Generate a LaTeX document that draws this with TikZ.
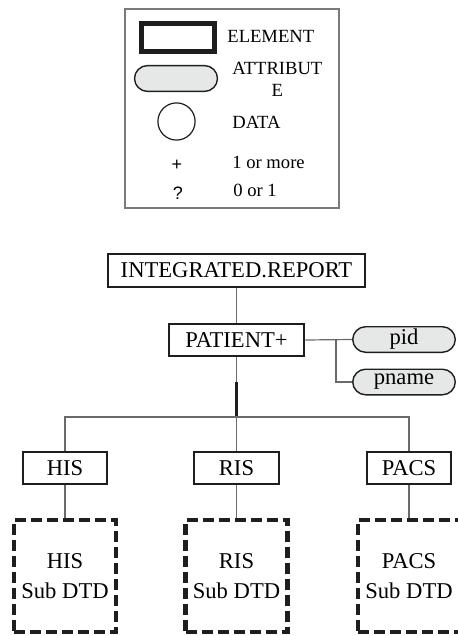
\documentclass[tikz,border=0pt]{standalone}
\usepackage{fontspec}
\setmainfont{Liberation Serif}
\newfontfamily\sansfam{Liberation Sans}
\newcommand\treefs{\fontsize{11.3}{15}\selectfont}
\newcommand\keyfs{\fontsize{9.3}{11}\selectfont}
\definecolor{linegray}{HTML}{6A6A6A}
\definecolor{framegray}{HTML}{7A7A7A}
\definecolor{attrfill}{HTML}{E6E8E8}
\definecolor{ink}{HTML}{1E1E1E}
\begin{document}
\begin{tikzpicture}[x=0.5pt,y=-0.5pt,
        box/.style={draw=ink,line width=0.95pt,inner sep=0pt,
            minimum height=16.1pt,font=\treefs},
        attr/.style={draw=ink,line width=0.7pt,fill=attrfill,
            rounded corners=6.5pt,inner sep=0pt,minimum width=51.3pt,
            minimum height=12.8pt,font=\treefs},
        subdtd/.style={draw=ink,line width=2.1pt,dash pattern=on 5.5pt off 2.5pt,
            inner sep=0pt,minimum width=51pt,minimum height=56pt,
            align=center,font=\treefs},
        keytext/.style={inner sep=0pt,anchor=west,font=\keyfs},
        conn/.style={draw=linegray,line width=0.6pt}]
\useasboundingbox (0,0) rectangle (457,636);

% legend
\draw[framegray,line width=0.9pt] (125,9) rectangle (339,208);
\node[draw=ink,line width=2.5pt,inner sep=0pt,minimum width=36.5pt,
    minimum height=14pt] (keyelem) at (178,37.5) {};
\node[attr,minimum width=41.5pt,minimum height=12.9pt] (keyattr) at (176,78.5) {};
\node[draw=ink,line width=0.6pt,circle,inner sep=0pt,minimum size=18.6pt]
    (keydata) at (176.5,121.5) {};
\node[keytext] (lelem) at (227,36) {ELEMENT};
\node[keytext,align=center] (lattr) at (232,79) {ATTRIBUT\\E};
\node[keytext] (ldata) at (232,122) {DATA};
\node[keytext] (lmore) at (232,162) {1 or more};
\node[keytext] (lopt) at (233,190) {0 or 1};
\node[inner sep=0pt,font=\sansfam\fontsize{9}{10}\selectfont] (kplus) at (177,165) {+};
\node[inner sep=0pt,font=\sansfam\fontsize{9}{10}\selectfont] (kopt) at (178,193) {?};

% tree
\node[box,minimum width=128.3pt] (report) at (236.5,270.5) {INTEGRATED.REPORT};
\node[box,minimum width=67.8pt] (patient) at (236.5,340) {PATIENT+};
\node[attr] (pid) at (404,339.5) {pid};
\node[attr] (pname) at (404,382) {pname};
\node[box,minimum width=42.3pt] (his) at (65,468) {HIS};
\node[box,minimum width=42.8pt] (ris) at (236.5,468) {RIS};
\node[box,minimum width=42.3pt] (pacs) at (409,468) {PACS};
\node[subdtd] (hissub) at (65,576) {HIS\\Sub DTD};
\node[subdtd] (rissub) at (236.5,576) {RIS\\Sub DTD};
\node[subdtd] (pacssub) at (409,576) {PACS\\Sub DTD};

\coordinate (branch) at (336,340);
\coordinate (knee) at (236.5,382);
\coordinate (bus) at (236.5,417);

\draw[conn] (report) -- (patient);
\draw[conn] (patient.east) -- (pid.west);
\draw[conn] (branch) |- (pname.west);
\draw[conn] (patient) -- (bus);
\draw[ink,line width=1.3pt] (knee) -- (bus);
\draw[conn] (his.north) |- (bus) -| (pacs.north);
\draw[conn] (bus) -- (ris);
\draw[conn] (his) -- (hissub);
\draw[conn] (ris) -- (rissub);
\draw[conn] (pacs) -- (pacssub);
\end{tikzpicture}
\end{document}
